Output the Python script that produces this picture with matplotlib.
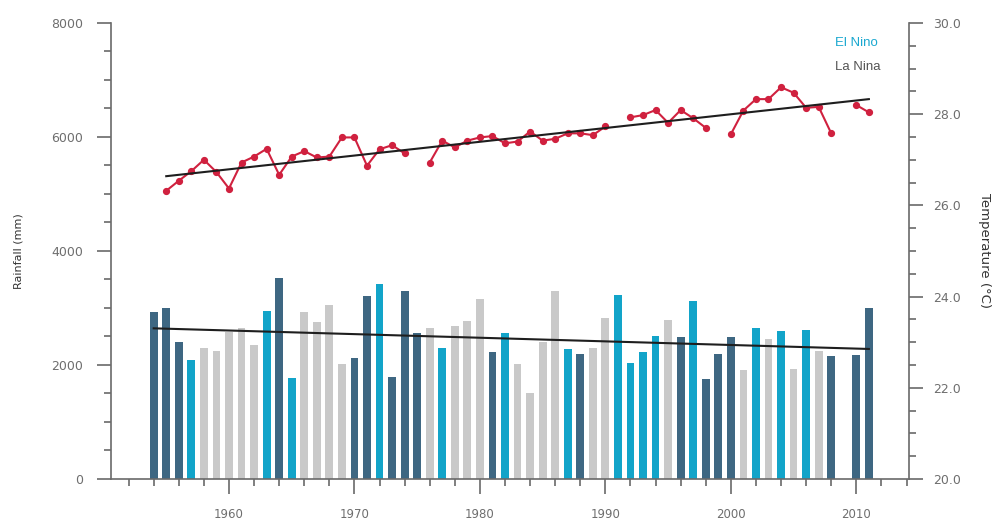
import numpy as np
import matplotlib.pyplot as plt
from matplotlib.ticker import MultipleLocator

plt.rcParams['font.family'] = ['DejaVu Sans']

years = list(range(1954, 2012))
rainfall = [2935, 2994, 2409, 2088, 2304, 2251, 2585, 2643, 2351, 2947,
            3532, 1778, 2935, 2749, 3053, 2011, 2129, 3211, 3421, 1784,
            3304, 2567, 2655, 2292, 2690, 2772, 3152, 2234, 2556, 2011,
            1503, 2409, 3304, 2275, 2187, 2292, 2830, 3222, 2041, 2234,
            2515, 2784, 2497, 3117, 1749, 2187, 2485, 1912, 2655, 2456,
            2602, 1930, 2614, 2251, 2158, np.nan, 2170, 3006]
# D = La Nina, C = El Nino, G = neutral
phase = list("DDDCGGGGGCDCGGGGDDCDDDGCGGGDCGGGGCDGGCCCCGDCDDDGCGCGCGD-DD")

temp = [np.nan, 26.32, 26.54, 26.75, 27.00, 26.73, 26.37, 26.94, 27.07, 27.24,
        26.67, 27.07, 27.19, 27.05, 27.07, 27.49, 27.49, 26.87, 27.23, 27.32,
        27.14, np.nan, 26.94, 27.42, 27.27, 27.42, 27.49, 27.52, 27.36, 27.40,
        27.62, 27.42, 27.46, 27.58, 27.58, 27.54, 27.73, np.nan, 27.93, 27.98,
        28.09, 27.81, 28.09, 27.91, 27.70, np.nan, 27.56, 28.08, 28.33, 28.33,
        28.59, 28.47, 28.14, 28.16, 27.58, np.nan, 28.20, 28.04]

# trend lines (start / end)
rain_trend_years = [1954, 2011]
rain_trend = [2643, 2281]
temp_trend_years = [1955, 2011]
temp_trend = [26.64, 28.33]

colors = {"D": "#3e6782", "C": "#12a4c9", "G": "#c9c9c9", "-": "white"}
text_grey = "#6e6e6e"
axis_grey = "#6a6a6a"

yrs = np.array(years, dtype=float)
rain = np.array(rainfall, dtype=float)
t = np.array(temp, dtype=float)

fig = plt.figure(figsize=(10.03, 5.22), dpi=100)
ax = fig.add_axes([0.1107, 0.0824, 0.7956, 0.8736])

ax.bar(yrs, np.nan_to_num(rain), width=0.62, color=[colors[p] for p in phase], zorder=2)
ax.plot(rain_trend_years, rain_trend, color="#1e1e1e", lw=1.5, zorder=3)

ax.set_xlim(1950.6, 2014.2)
ax.set_ylim(0, 8000)
ax.yaxis.set_major_locator(MultipleLocator(2000))
ax.yaxis.set_minor_locator(MultipleLocator(500))
ax.xaxis.set_major_locator(MultipleLocator(10))
ax.xaxis.set_minor_locator(MultipleLocator(2))
ax.spines["top"].set_visible(False)
ax.spines["right"].set_visible(False)
for s in ["left", "bottom"]:
    ax.spines[s].set_color(axis_grey)
    ax.spines[s].set_linewidth(1.2)
ax.tick_params(axis="y", which="major", length=10, width=1.2, color=axis_grey,
               labelsize=9, labelcolor=text_grey, pad=10)
ax.tick_params(axis="y", which="minor", length=5, width=1.2, color=axis_grey)
ax.tick_params(axis="x", which="major", length=11, width=1.2, color=axis_grey,
               labelsize=8.5, labelcolor=text_grey, pad=10)
ax.tick_params(axis="x", which="minor", length=5, width=1.2, color=axis_grey)
ax.set_ylabel("Rainfall (mm)", fontsize=8, color="#333333", labelpad=20)

ax2 = ax.twinx()
ax2.plot(yrs, t, color="#d0213f", lw=1.5, marker="o", ms=4.2, zorder=4)
ax2.plot(temp_trend_years, temp_trend, color="#1e1e1e", lw=1.5, zorder=5)
ax2.set_ylim(20, 30)
ax2.yaxis.set_major_locator(MultipleLocator(2))
ax2.yaxis.set_minor_locator(MultipleLocator(0.5))
ax2.yaxis.set_major_formatter(lambda v, p: f"{v:.1f}")
for s in ["top", "left", "bottom"]:
    ax2.spines[s].set_visible(False)
ax2.spines["right"].set_color(axis_grey)
ax2.spines["right"].set_linewidth(1.2)
ax2.tick_params(axis="y", which="major", length=10, width=1.2, color=axis_grey,
                labelsize=9, labelcolor=text_grey, pad=7)
ax2.tick_params(axis="y", which="minor", length=5, width=1.2, color=axis_grey)
ax2.set_ylabel("Temperature (°C)", fontsize=9.5, color="#333333", rotation=270, labelpad=22)

ax.text(0.907, 0.956, "El Nino", transform=ax.transAxes, color="#1aa8d0",
        fontsize=9.5, va="center", ha="left", family="Liberation Sans")
ax.text(0.907, 0.904, "La Nina", transform=ax.transAxes, color="#555555",
        fontsize=9.5, va="center", ha="left", family="Liberation Sans")

fig.savefig("out.png", dpi=100)
